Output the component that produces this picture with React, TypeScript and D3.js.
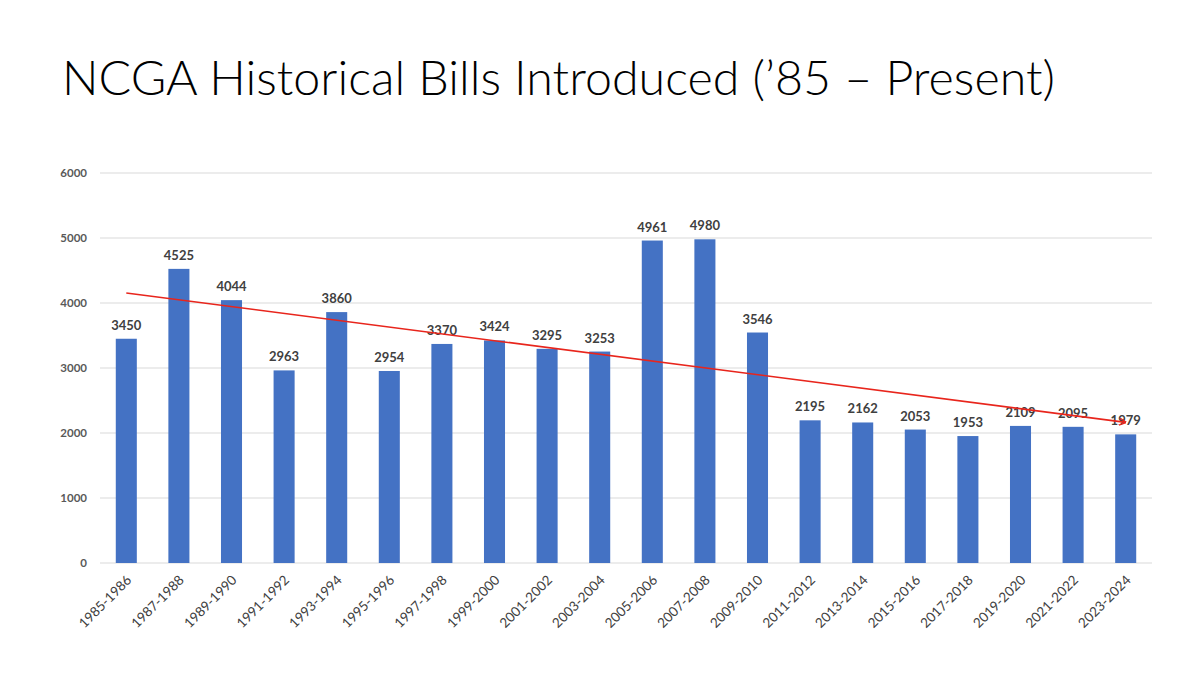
import { useMemo } from "react";
import { scaleBand, scaleLinear, mean } from "d3";

const sessions = [
  "1985-1986", "1987-1988", "1989-1990", "1991-1992", "1993-1994",
  "1995-1996", "1997-1998", "1999-2000", "2001-2002", "2003-2004",
  "2005-2006", "2007-2008", "2009-2010", "2011-2012", "2013-2014",
  "2015-2016", "2017-2018", "2019-2020", "2021-2022", "2023-2024",
];
const billsIntroduced = [
  3450, 4525, 4044, 2963, 3860, 2954, 3370, 3424, 3295, 3253,
  4961, 4980, 3546, 2195, 2162, 2053, 1953, 2109, 2095, 1979,
];
const yTicks = [0, 1000, 2000, 3000, 4000, 5000, 6000];

const title = "NCGA Historical Bills Introduced (\u201985 \u2013 Present)";

const App = () => {
  const width = 1200;
  const height = 675;
  const margin = { top: 173, bottom: 112, left: 100, right: 48 };
  const innerWidth = width - margin.left - margin.right;
  const innerHeight = height - margin.top - margin.bottom;

  const xScale = scaleBand().domain(sessions).range([0, innerWidth]).paddingInner(0.6).paddingOuter(0.3);
  const yScale = scaleLinear().domain([0, 6000]).range([innerHeight, 0]);

  // simple least squares fit for the trend arrow
  const trend = useMemo(() => {
    const xs = billsIntroduced.map((_, i) => i);
    const mx = mean(xs);
    const my = mean(billsIntroduced);
    let sxy = 0;
    let sxx = 0;
    xs.forEach((x, i) => {
      sxy += (x - mx) * (billsIntroduced[i] - my);
      sxx += (x - mx) * (x - mx);
    });
    const slope = sxy / sxx;
    const b = my - slope * mx;
    return { start: b, end: b + slope * (xs.length - 1) };
  }, []);

  const center = (s) => xScale(s) + xScale.bandwidth() / 2;
  const font = "Lato, 'Open Sans', sans-serif";

  return (
    <svg width={width} height={height} style={{ position: "absolute", left: 0, top: 0, background: "#fff" }}>
      <defs>
        <marker id="arrow" viewBox="0 0 10 10" refX="9" refY="5" markerWidth="5" markerHeight="5" orient="auto">
          <path d="M0,0 L10,5 L0,10" fill="none" stroke="#e8251c" strokeWidth="1.6" />
        </marker>
      </defs>
      <text x={62} y={95} fontFamily={font} fontWeight={300} fontSize={47} fill="#000" textLength={993} lengthAdjust="spacingAndGlyphs">
        {title}
      </text>
      <g transform={`translate(${margin.left}, ${margin.top})`}>
        {yTicks.map((t) => (
          <g key={t} transform={`translate(0, ${yScale(t)})`}>
            <line x2={innerWidth} stroke="#d9d9d9" strokeWidth={1} />
            <text x={-13} dy=".35em" textAnchor="end" fontFamily={font} fontWeight={700} fontSize={11.5} fill="#595959">
              {t}
            </text>
          </g>
        ))}
        {sessions.map((s, i) => (
          <g key={s}>
            <rect
              x={xScale(s)}
              y={yScale(billsIntroduced[i])}
              width={xScale.bandwidth()}
              height={innerHeight - yScale(billsIntroduced[i])}
              fill="#4472c4"
            />
            <text
              x={center(s)}
              y={yScale(billsIntroduced[i]) - 9}
              textAnchor="middle"
              fontFamily={font}
              fontWeight={700}
              fontSize={13}
              fill="#404040"
            >
              {billsIntroduced[i]}
            </text>
            <text
              transform={`translate(${center(s) + 6}, ${innerHeight + 18}) rotate(-45)`}
              textAnchor="end"
              fontFamily={font}
              fontSize={13.5}
              fill="#404040"
            >
              {s}
            </text>
          </g>
        ))}
        <line
          x1={center(sessions[0])}
          y1={yScale(trend.start)}
          x2={center(sessions[sessions.length - 1])}
          y2={yScale(trend.end)}
          stroke="#e8251c"
          strokeWidth={1.6}
          markerEnd="url(#arrow)"
        />
      </g>
    </svg>
  );
};

export default App;
